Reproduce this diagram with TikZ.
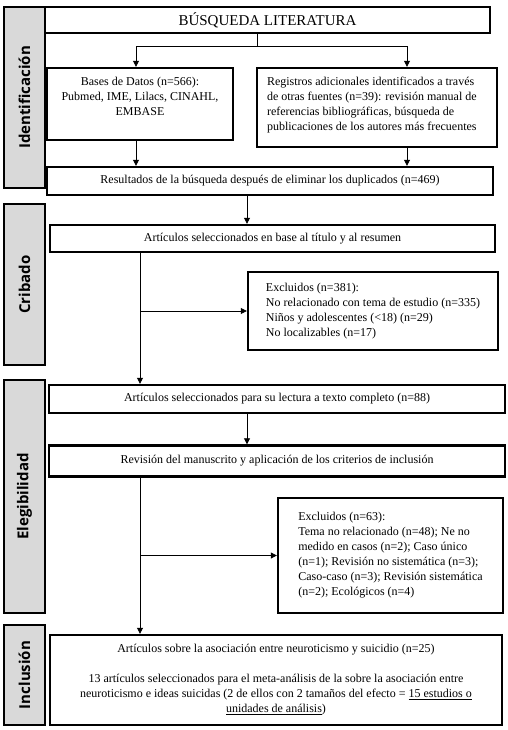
\documentclass[tikz,border=0pt]{standalone}
\usepackage{fontspec}
\setmainfont{Liberation Serif}
\newfontfamily\sidefont{Open Sans}
\usetikzlibrary{arrows.meta}
\begin{document}
\begin{tikzpicture}[x=1pt,y=-1pt,
  box/.style={draw, line width=2.4pt, inner sep=0pt, font=\fontsize{12}{15}\selectfont},
  sidebar/.style={draw, line width=2.4pt, fill=black!15, rotate=90, inner sep=0pt, font=\sidefont\bfseries\fontsize{15}{18}\selectfont},
  arr/.style={line width=0.8pt, -{Triangle[length=6pt,width=6pt]}},
  ln/.style={line width=0.8pt},
  txt/.style={inner sep=0pt, font=\fontsize{12}{15}\selectfont}
]
\useasboundingbox (0,0) rectangle (507,730);
\fill[white] (0,0) rectangle (507,730);

% side bars
\node[sidebar, minimum width=181pt, minimum height=41pt] (sIdent) at (24.5,97.5) {Identificación};
\node[sidebar, minimum width=161pt, minimum height=41pt] (sCrib) at (24.5,284.5) {Cribado};
\node[sidebar, minimum width=233pt, minimum height=41pt] (sEleg) at (24.5,496.5) {Elegibilidad};
\node[sidebar, minimum width=100pt, minimum height=41pt] (sIncl) at (24.5,675) {Inclusión};

% helper coordinates
\coordinate (br) at (257,46);
\coordinate (xm) at (247,0);
\coordinate (xl) at (140,0);

% identification
\node[box, minimum width=445pt, minimum height=26pt] (busq) at (267.5,20) {\fontsize{15}{18}\selectfont BÚSQUEDA LITERATURA};
\node[box, minimum width=186pt, minimum height=72pt] (bases) at (140,104) {};
\node[txt, anchor=north, align=center] (basesT) at ([yshift=-10pt]bases.north) {Bases de Datos (n=566):\\Pubmed, IME, Lilacs, CINAHL,\\EMBASE};
\node[box, minimum width=240pt, minimum height=79pt] (reg) at (377,107.5) {};
\node[txt, anchor=north west, align=left] (regT) at ([xshift=11pt,yshift=-10pt]reg.north west) {Registros adicionales identificados a través\\de otras fuentes (n=39): revisión manual de\\referencias bibliográficas, búsqueda de\\publicaciones de los autores más frecuentes};
\node[box, minimum width=446pt, minimum height=28pt] (res) at (270,181) {Resultados de la búsqueda después de eliminar los duplicados (n=469)};

\coordinate (basx) at ([xshift=-4pt]bases.south);
\coordinate (regx) at ([xshift=30pt]reg.south);
\draw[ln] (busq.south -| br) -- (br);
\draw[arr] (br) -| (basx |- bases.north);
\draw[arr] (br) -| (regx |- reg.north);
\draw[arr] (basx) -- (basx |- res.north);
\draw[arr] (regx) -- (regx |- res.north);

% screening
\node[box, minimum width=445pt, minimum height=27pt] (art1) at (272.5,238.5) {Artículos seleccionados en base al título y al resumen};
\draw[arr] (res.south -| xm) -- (art1.north -| xm);
\node[box, minimum width=250pt, minimum height=78pt, align=left] (exc1) at (373,311) {Excluidos (n=381):\\No relacionado con tema de estudio (n=335)\\Niños y adolescentes (<18) (n=29)\\No localizables (n=17)};

% eligibility
\node[box, minimum width=456pt, minimum height=28pt] (art2) at (277,399) {Artículos seleccionados para su lectura a texto completo (n=88)};
\node[box, minimum width=456pt, minimum height=31pt] (rev) at (277,461) {Revisión del manuscrito y aplicación de los criterios de inclusión};
\node[box, minimum width=225pt, minimum height=115pt, align=left] (exc2) at (390.5,555.5) {Excluidos (n=63):\\Tema no relacionado (n=48); Ne no\\medido en casos (n=2); Caso único\\(n=1); Revisión no sistemática (n=3);\\Caso-caso (n=3); Revisión sistemática\\(n=2); Ecológicos (n=4)};

\draw[arr] (art1.south -| xl) -- (art2.north -| xl);
\draw[arr] (exc1.west -| xl) -- (exc1.west);
\draw[arr] (art2.south -| xm) -- (rev.north -| xm);

% inclusion
\node[box, minimum width=452pt, minimum height=90pt, align=center] (inc) at (276,680) {Artículos sobre la asociación entre neuroticismo y suicidio (n=25)\\[15pt]13 artículos seleccionados para el meta-análisis de la sobre la asociación entre\\neuroticismo e ideas suicidas (2 de ellos con 2 tamaños del efecto = \underline{15 estudios o}\\\underline{unidades de análisis})};
\draw[arr] (rev.south -| xl) -- (inc.north -| xl);
\draw[arr] (exc2.west -| xl) -- (exc2.west);
\end{tikzpicture}
\end{document}
